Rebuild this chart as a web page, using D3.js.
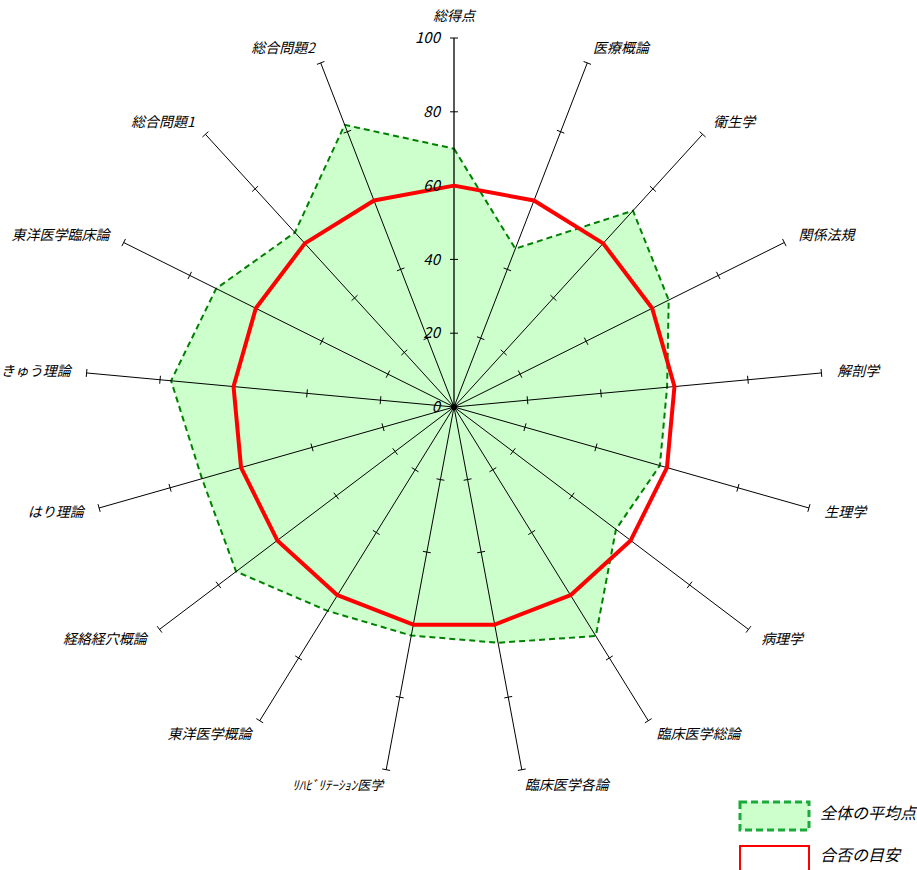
<!DOCTYPE html>
<html>
<head>
<meta charset="utf-8">
<script src="https://cdn.jsdelivr.net/npm/d3@7"></script>
<style>
  html, body { margin: 0; padding: 0; background: #fff; }
  svg { display: block; }
  text { font-family: "Noto Sans CJK JP", "DejaVu Sans", sans-serif; font-style: italic; fill: #000; }
</style>
</head>
<body>
<div id="chart"></div>
<script>
const categories = ["総得点", "医療概論", "衛生学", "関係法規", "解剖学", "生理学", "病理学",
  "臨床医学総論", "臨床医学各論", "ﾘﾊﾋﾞﾘﾃｰｼｮﾝ医学", "東洋医学概論", "経絡経穴概論",
  "はり理論", "きゅう理論", "東洋医学臨床論", "総合問題1", "総合問題2"];
const averageScores = [70, 46, 72, 65, 58, 58, 55, 73, 65, 63, 65, 74, 71, 77, 72, 64, 82];
const passLine = [60, 60, 60, 60, 60, 60, 60, 60, 60, 60, 60, 60, 60, 60, 60, 60, 60];
const tickValues = [0, 20, 40, 60, 80, 100];
const legendLabels = ["全体の平均点", "合否の目安"];

const width = 917, height = 870;
const cx = 454, cy = 407, R = 369;

const svg = d3.select("#chart").append("svg")
  .attr("width", width).attr("height", height);

const r = d3.scaleLinear().domain([0, 100]).range([0, R]);
const angle = d3.scaleLinear().domain([0, categories.length]).range([0, 2 * Math.PI]);

const g = svg.append("g").attr("transform", `translate(${cx},${cy})`);

const pt = (i, v) => [Math.sin(angle(i)) * r(v), -Math.cos(angle(i)) * r(v)];

const radial = d3.lineRadial()
  .angle((d, i) => angle(i))
  .radius(d => r(d))
  .curve(d3.curveLinearClosed);

// average area
g.append("path")
  .datum(averageScores)
  .attr("d", radial)
  .attr("fill", "#ccffcc")
  .attr("stroke", "#008000")
  .attr("stroke-width", 2)
  .attr("stroke-dasharray", "6,4");

// axes
categories.forEach((c, i) => {
  const [x2, y2] = pt(i, 100);
  g.append("line")
    .attr("x1", 0).attr("y1", 0).attr("x2", x2).attr("y2", y2)
    .attr("stroke", "#000").attr("stroke-width", i === 0 ? 1.3 : 1);

  const a = angle(i);
  tickValues.slice(1).forEach(t => {
    const [tx, ty] = pt(i, t);
    const px = Math.cos(a) * 4, py = Math.sin(a) * 4;
    g.append("line")
      .attr("x1", tx - px).attr("y1", ty - py)
      .attr("x2", tx + px).attr("y2", ty + py)
      .attr("stroke", "#000").attr("stroke-width", 1);
  });

  const [lx, ly] = pt(i, 104.3);
  const s = Math.sin(a);
  g.append("text")
    .attr("x", lx).attr("y", i === 0 ? ly - 6 : ly)
    .attr("dy", "0.35em")
    .attr("text-anchor", Math.abs(s) < 0.01 ? "middle" : (s > 0 ? "start" : "end"))
    .style("font-size", i === 9 ? "13px" : "14px")
    .text(c);
});

// pass line
g.append("path")
  .datum(passLine)
  .attr("d", radial)
  .attr("fill", "none")
  .attr("stroke", "#ff0000")
  .attr("stroke-width", 4)
  .attr("stroke-linejoin", "round");

g.append("circle").attr("r", 3).attr("fill", "#000");

// tick labels on the first axis
tickValues.forEach(t => {
  g.append("text")
    .attr("x", -14).attr("y", -r(t))
    .attr("dy", "0.35em")
    .attr("text-anchor", "end")
    .style("font-size", "15px")
    .text(t);
});

// legend
const legend = svg.append("g").attr("transform", "translate(740,802)");
legend.append("rect")
  .attr("x", 0).attr("y", 0).attr("width", 69).attr("height", 28)
  .attr("fill", "#ccffcc").attr("stroke", "#1aaa3a")
  .attr("stroke-width", 3).attr("stroke-dasharray", "7,4");
legend.append("text")
  .attr("x", 80).attr("y", 11).attr("dy", "0.35em")
  .style("font-size", "16px").text(legendLabels[0]);
legend.append("rect")
  .attr("x", 0).attr("y", 44).attr("width", 69).attr("height", 40)
  .attr("fill", "#fff").attr("stroke", "#ff0000").attr("stroke-width", 2);
legend.append("text")
  .attr("x", 80).attr("y", 53).attr("dy", "0.35em")
  .style("font-size", "16px").text(legendLabels[1]);
</script>
</body>
</html>
